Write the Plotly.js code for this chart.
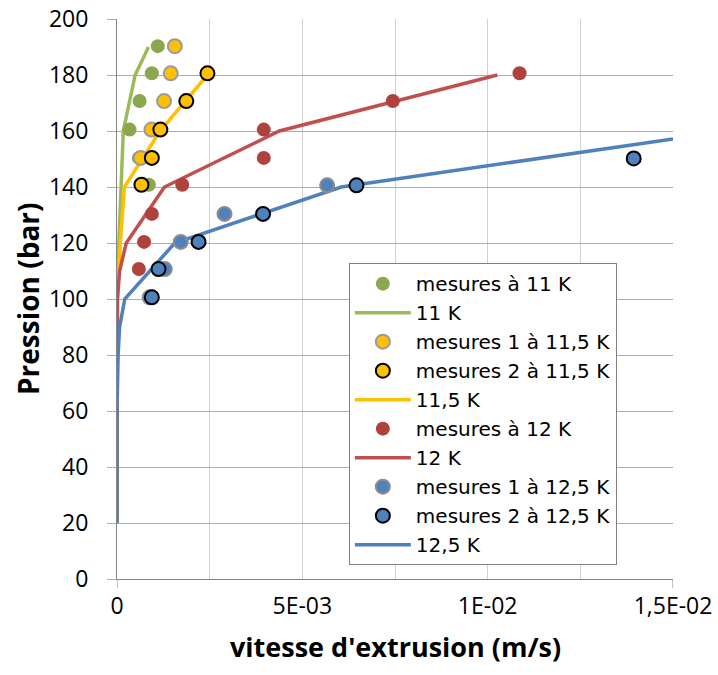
<!DOCTYPE html>
<html>
<head>
<meta charset="utf-8">
<script src="https://cdn.plot.ly/plotly-3.0.1.min.js"></script>
<style>html,body{margin:0;padding:0;background:#fff;}#chart{width:718px;height:675px;}</style>
</head>
<body>
<div id="chart"></div>
<script>
// Measurements (x in m/s, pressure in bar)
const m11_x = [0.00110, 0.00094, 0.00061, 0.00034, 0.00059, 0.00086];
const m11_p = [190.3, 180.6, 170.7, 160.5, 150.4, 140.8];

const m115a_x = [0.00156, 0.00145, 0.00127, 0.00093, 0.00064];
const m115a_p = [190.3, 180.6, 170.7, 160.5, 150.4];

const m115b_x = [0.00244, 0.00187, 0.00117, 0.00094, 0.00066];
const m115b_p = [180.6, 170.7, 160.5, 150.4, 140.8];

const m12_x = [0.01086, 0.00744, 0.00396, 0.00396, 0.00176, 0.00094, 0.00073, 0.00059];
const m12_p = [180.6, 170.7, 160.5, 150.4, 140.8, 130.4, 120.4, 110.7];

const m125a_x = [0.00567, 0.00290, 0.00172, 0.00129, 0.00088];
const m125a_p = [140.6, 130.4, 120.4, 110.7, 100.6];

const m125b_x = [0.01394, 0.00646, 0.00394, 0.00220, 0.00112, 0.00094];
const m125b_p = [150.2, 140.6, 130.4, 120.4, 110.7, 100.6];

// Model curves
const c11_x = [0, 0, 0, 0, 0.00001, 0.00005, 0.00011, 0.00017, 0.00049, 0.00085];
const c11_p = [20, 40, 60, 80, 100, 120, 140, 160, 180, 190];

const c115_x = [0, 0, 0, 0, 0.00001, 0.00009, 0.00020, 0.00116, 0.00244];
const c115_p = [20, 40, 60, 80, 100, 120, 140, 160, 180];

const c12_x = [0, 0, 0, 0, 0.00001, 0.00007, 0.00025, 0.00128, 0.00438, 0.01026];
const c12_p = [20, 40, 60, 80, 100, 110, 120, 140, 160, 180];

const c125_x = [0, 0, 0, 0.00003, 0.00007, 0.00021, 0.00156, 0.00605, 0.0165];
const c125_p = [20, 40, 60, 80, 90, 100, 120, 140, 160];

// Labels
const names = ["mesures à 11 K", "11 K", "mesures 1 à 11,5 K", "mesures 2 à 11,5 K", "11,5 K",
               "mesures à 12 K", "12 K", "mesures 1 à 12,5 K", "mesures 2 à 12,5 K", "12,5 K"];
const xTickVals = [0, 0.005, 0.01, 0.015];
const xTickText = ["0", "5E-03", "1E-02", "1,5E-02"];
const yTickVals = [0, 20, 40, 60, 80, 100, 120, 140, 160, 180, 200];
const xTitle = "vitesse d'extrusion (m/s)";
const yTitle = "Pression (bar)";

const GREEN_M = '#8BA84E', GREEN_L = '#9BBB59';
const YEL = '#FFC000';
const RED_M = '#B0423E', RED_L = '#C0504D';
const BLUE = '#4F81BD';
const FONT = "'Open Sans', 'Liberation Sans', sans-serif";
const LFONT = "'DejaVu Sans', 'Open Sans', sans-serif";

function line(x, y, name, color, rank) {
  return {x: x, y: y, name: name, type: 'scatter', mode: 'lines',
          line: {color: color, width: 3.5}, legendrank: rank, cliponaxis: true};
}
function pts(x, y, name, color, outline, ow, rank) {
  return {x: x, y: y, name: name, type: 'scatter', mode: 'markers',
          marker: {color: color, size: 14, line: {color: outline, width: ow}},
          legendrank: rank, cliponaxis: true};
}

const data = [
  line(c11_x, c11_p, names[1], GREEN_L, 2),
  line(c115_x, c115_p, names[4], YEL, 5),
  line(c12_x, c12_p, names[6], RED_L, 7),
  pts(m11_x, m11_p, names[0], GREEN_M, GREEN_M, 0, 1),
  pts(m115a_x, m115a_p, names[2], YEL, '#9A9A9A', 2, 3),
  pts(m115b_x, m115b_p, names[3], YEL, '#000000', 2, 4),
  pts(m12_x, m12_p, names[5], RED_M, RED_M, 0, 6),
  line(c125_x, c125_p, names[9], BLUE, 10),
  pts(m125a_x, m125a_p, names[7], BLUE, '#8C8C8C', 2, 8),
  pts(m125b_x, m125b_p, names[8], BLUE, '#000000', 2, 9)
];

const layout = {
  width: 718, height: 675,
  margin: {l: 117, r: 45, t: 19, b: 96},
  paper_bgcolor: '#ffffff', plot_bgcolor: '#ffffff',
  font: {family: FONT, color: '#000000'},
  showlegend: true,
  legend: {
    x: 0.417, y: 0.564, xanchor: 'left', yanchor: 'top',
    bgcolor: '#ffffff', bordercolor: '#808080', borderwidth: 1,
    font: {family: LFONT, size: 20, color: '#000000'},
    itemwidth: 56, traceorder: 'normal'
  },
  xaxis: {
    range: [0, 0.015], autorange: false,
    tickmode: 'array', tickvals: xTickVals, ticktext: xTickText,
    showgrid: true, gridcolor: '#D0D0D0', gridwidth: 1,
    minor: {tickmode: 'array', tickvals: [0.0025, 0.0075, 0.0125], showgrid: true, gridcolor: '#D0D0D0', gridwidth: 1},
    zeroline: false, showline: true, linecolor: '#868686', linewidth: 1,
    ticks: '', ticklabelstandoff: 6,
    tickfont: {family: FONT, size: 23, color: '#000000'}
  },
  yaxis: {
    range: [0, 200], autorange: false,
    tickmode: 'array', tickvals: yTickVals,
    showgrid: true, gridcolor: '#ADADAD', gridwidth: 1,
    zeroline: false, showline: true, linecolor: '#868686', linewidth: 1,
    ticks: 'outside', ticklen: 9, tickcolor: '#ADADAD', tickwidth: 1,
    ticklabelstandoff: 14,
    tickfont: {family: FONT, size: 23, color: '#000000'}
  },
  annotations: [
    {text: yTitle, xref: 'paper', yref: 'paper', x: -0.160, y: 0.5, xanchor: 'center', yanchor: 'middle',
     textangle: -90, showarrow: false, font: {family: FONT, size: 28, color: '#000000', weight: 'bold'}},
    {text: xTitle, xref: 'paper', yref: 'paper', x: 0.5, y: -0.1214, xanchor: 'center', yanchor: 'middle',
     showarrow: false, font: {family: FONT, size: 27, color: '#000000', weight: 'bold'}}
  ],
  shapes: [
    {type: 'line', xref: 'x', yref: 'paper', x0: 0, x1: 0, y0: 0, y1: -0.016, line: {color: '#868686', width: 1}},
    {type: 'line', xref: 'x', yref: 'paper', x0: 0.015, x1: 0.015, y0: 0, y1: -0.016, line: {color: '#868686', width: 1}}
  ]
};

Plotly.newPlot('chart', data, layout, {displayModeBar: false, staticPlot: true});
</script>
</body>
</html>
